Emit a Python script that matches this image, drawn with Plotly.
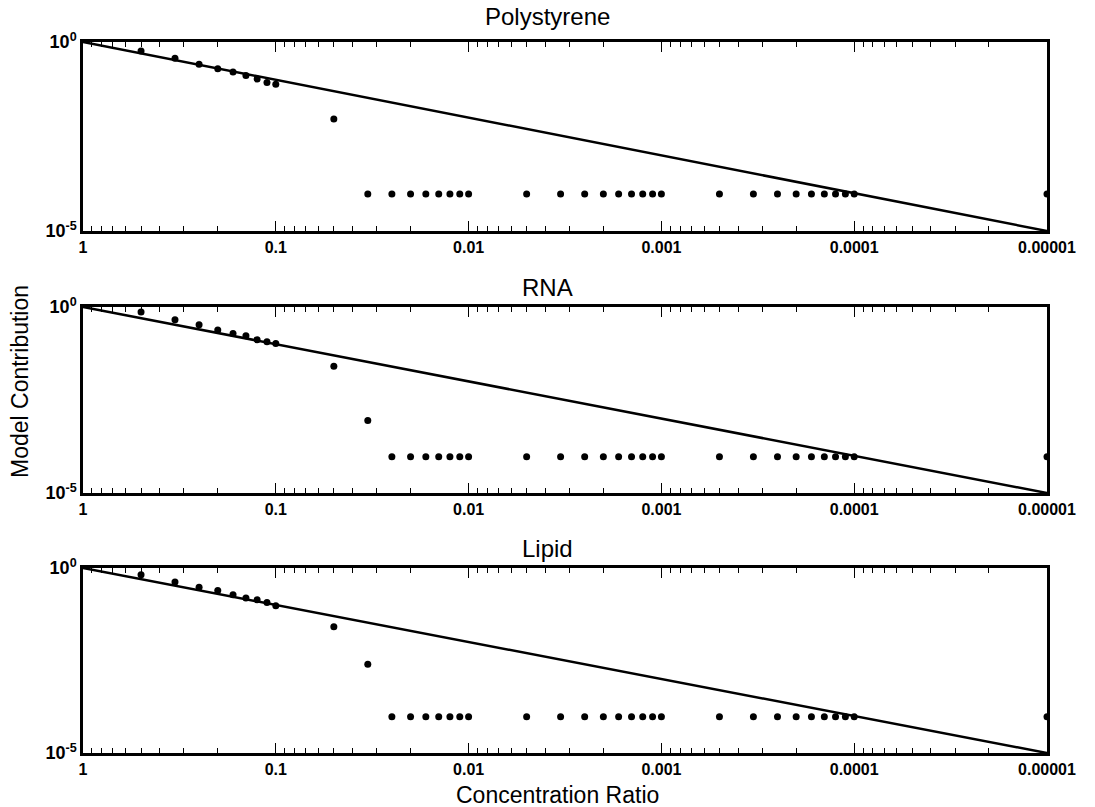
import plotly.graph_objects as go
from plotly.subplots import make_subplots

# Concentration ratios (x)
conc = [1/2, 1/3, 1/4, 1/5, 1/6, 1/7, 1/8, 1/9, 1/10,
        1/20, 1/30, 1/40, 1/50, 1/60, 1/70, 1/80, 1/90, 1/100,
        1/200, 1/300, 1/400, 1/500, 1/600, 1/700, 1/800, 1/900, 1/1000,
        1/2000, 1/3000, 1/4000, 1/5000, 1/6000, 1/7000, 1/8000, 1/9000, 1/10000,
        1e-5]

FLOOR = 9.5e-5
polystyrene = [0.578, 0.372, 0.257, 0.195, 0.162, 0.129, 0.105, 0.085, 0.076,
               0.0092] + [FLOOR] * 27
rna = [0.734, 0.457, 0.335, 0.24, 0.195, 0.17, 0.132, 0.117, 0.105,
       0.0257, 0.00089] + [FLOOR] * 26
lipid = [0.66, 0.417, 0.30, 0.245, 0.19, 0.155, 0.138, 0.117, 0.095,
         0.026, 0.0025] + [FLOOR] * 26

ideal_x = [1, 1e-5]
ideal_y = [1, 1e-5]

titles = ["Polystyrene", "RNA", "Lipid"]
series = [polystyrene, rna, lipid]

xtick_vals = [1, 0.1, 0.01, 0.001, 0.0001, 0.00001]
xtick_text = ["1", "0.1", "0.01", "0.001", "0.0001", "0.00001"]
ytick_vals = [1, 1e-5]
ytick_text = ["10<sup>0</sup>", "10<sup>-5</sup>"]

minor_vals = [m * 10 ** (-k) for k in range(1, 6) for m in range(2, 10)]

FONT = "Liberation Sans, Arial, sans-serif"

W, H = 1095, 807
L, R, T, B = 83, 48, 42, 54
pw, ph = W - L - R, H - T - B

# panel pixel extents (top, bottom) converted to paper domains
panel_px = [(42, 231), (307, 493), (568, 753)]
domains = [[(H - B - b) / ph, (H - B - t) / ph] for t, b in panel_px]

fig = make_subplots(rows=3, cols=1, shared_xaxes=False)

for i, (name, vals) in enumerate(zip(titles, series)):
    r = i + 1
    fig.add_trace(go.Scatter(x=ideal_x, y=ideal_y, mode="lines",
                             line=dict(color="black", width=2.5),
                             showlegend=False, hoverinfo="skip"), row=r, col=1)
    fig.add_trace(go.Scatter(x=conc, y=vals, mode="markers",
                             marker=dict(color="black", size=7),
                             showlegend=False, name=name), row=r, col=1)
    fig.update_xaxes(type="log", range=[0, -5],
                     tickvals=xtick_vals, ticktext=xtick_text,
                     ticks="inside", ticklen=10, tickwidth=1, tickcolor="black",
                     minor=dict(tickvals=minor_vals, ticks="inside", ticklen=5,
                                tickwidth=1, tickcolor="black", showgrid=False),
                     showline=True, linewidth=2.5, linecolor="black", mirror="allticks",
                     showgrid=False, zeroline=False,
                     tickfont=dict(family=FONT, size=16, color="black", weight="bold"),
                     row=r, col=1)
    fig.update_yaxes(type="log", range=[-5, 0], domain=[max(0, domains[i][0]), min(1, domains[i][1])],
                     tickvals=ytick_vals, ticktext=ytick_text,
                     ticks="", showline=True, linewidth=2.5, linecolor="black",
                     mirror=True, showgrid=False, zeroline=False,
                     tickfont=dict(family=FONT, size=18, color="black", weight="bold"),
                     row=r, col=1)

annotations = []
title_y = [17, 287, 548]
for name, ty in zip(titles, title_y):
    annotations.append(dict(text=name, x=(547 - L) / pw, y=(H - B - ty) / ph,
                            xref="paper", yref="paper", showarrow=False,
                            xanchor="center", yanchor="middle",
                            font=dict(family=FONT, size=24, color="black")))

annotations.append(dict(text="Concentration Ratio", x=(557 - L) / pw, y=(H - B - 795) / ph,
                        xref="paper", yref="paper", showarrow=False,
                        xanchor="center", yanchor="middle", borderpad=0,
                        font=dict(family=FONT, size=23, color="black")))
annotations.append(dict(text="Model Contribution", x=(20 - L) / pw, y=(H - B - 382) / ph,
                        xref="paper", yref="paper", showarrow=False, textangle=-90,
                        xanchor="center", yanchor="middle",
                        font=dict(family=FONT, size=23, color="black")))

fig.update_layout(width=W, height=H, margin=dict(l=L, r=R, t=T, b=B),
                  paper_bgcolor="white", plot_bgcolor="white",
                  annotations=annotations, showlegend=False)

fig.write_html("out.html")
